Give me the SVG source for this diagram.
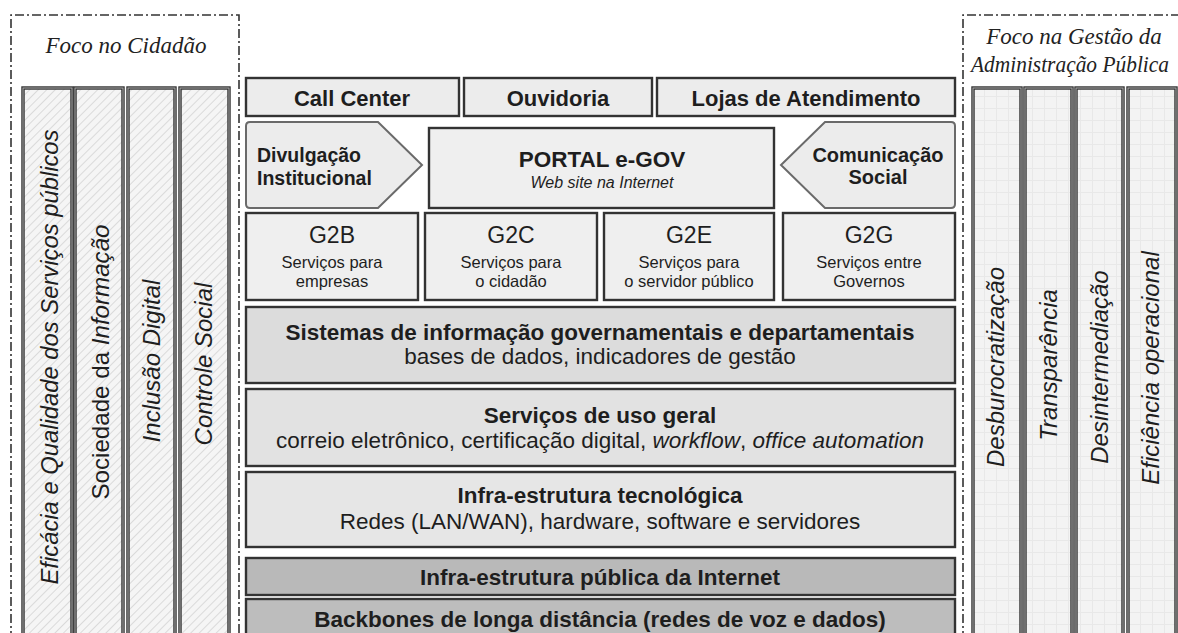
<svg xmlns="http://www.w3.org/2000/svg" width="1178" height="633" viewBox="0 0 1178 633">
<style>
.bg{fill:#ffffff}
.dash{fill:none;stroke:#333;stroke-width:1.6;stroke-dasharray:9,3,2,3}
.col{stroke:#2e2e2e;stroke-width:3.4}
.colin{fill:none;stroke:#b0b0b0;stroke-width:1}
.box{stroke:#333;stroke-width:2.4}
.arr{fill:#ececec;stroke:#6a6a6a;stroke-width:2}
.l1{fill:#ececec}.l2{fill:#efefef}.m1{fill:#dcdcdc}.m2{fill:#e2e2e2}.m3{fill:#e6e6e6}.d1{fill:#b9b9b9}.d2{fill:#bdbdbd}
.sans{font-family:"Liberation Sans",Arial,sans-serif;fill:#1e1e1e}
.serif{font-family:"Liberation Serif","Times New Roman",serif;font-style:italic;font-size:23px;fill:#222;text-anchor:middle}
.b{font-weight:bold}
.c{text-anchor:middle}
.it{font-style:italic}
.rot{font-family:"Liberation Sans",Arial,sans-serif;font-size:24px;fill:#1e1e1e;text-anchor:middle}
</style>
<defs>
<pattern id="hatch" patternUnits="userSpaceOnUse" width="6" height="6" patternTransform="rotate(45)">
<rect width="6" height="6" fill="#f5f5f5"/>
<line x1="0" y1="0" x2="0" y2="6" stroke="#d4d4d4" stroke-width="1.6"/>
</pattern>
<pattern id="grid" patternUnits="userSpaceOnUse" width="12" height="12">
<rect width="12" height="12" fill="#f3f3f3"/>
<path d="M0 0.5H12M0.5 0V12" stroke="#e8e8e8" stroke-width="1"/>
</pattern>
</defs>
<rect class="bg" x="0" y="0" width="1178" height="633"/>

<g id="left-panel">
<path class="dash" d="M11 640V15H239V640"/>
<text class="serif" x="126" y="53">Foco no Cidadão</text>
</g>
<g id="right-panel">
<path class="dash" d="M963 640V15H1185"/>
<text class="serif" x="1074" y="44">Foco na Gestão da</text>
<text class="serif" x="1070" y="72" textLength="198" lengthAdjust="spacingAndGlyphs">Administração Pública</text>
</g>

<g id="col-eficacia">
<rect class="col" x="23" y="88" width="49" height="548" fill="url(#hatch)"/>
<rect class="colin" x="23" y="88" width="49" height="548"/>
<text class="rot it" transform="translate(58,357) rotate(-90)" textLength="455" lengthAdjust="spacingAndGlyphs">Eficácia e Qualidade dos Serviços públicos</text>
</g>
<g id="col-sociedade">
<rect class="col" x="75" y="88" width="48" height="548" fill="url(#hatch)"/>
<rect class="colin" x="75" y="88" width="48" height="548"/>
<text class="rot" transform="translate(109,362) rotate(-90)" textLength="275" lengthAdjust="spacingAndGlyphs">Sociedade da <tspan class="it">Informação</tspan></text>
</g>
<g id="col-inclusao">
<rect class="col" x="128" y="88" width="47" height="548" fill="url(#hatch)"/>
<rect class="colin" x="128" y="88" width="47" height="548"/>
<text class="rot it" transform="translate(160,361) rotate(-90)">Inclusão Digital</text>
</g>
<g id="col-controle">
<rect class="col" x="180" y="88" width="49" height="548" fill="url(#hatch)"/>
<rect class="colin" x="180" y="88" width="49" height="548"/>
<text class="rot it" transform="translate(212,364) rotate(-90)">Controle Social</text>
</g>

<g id="col-desburocratizacao">
<rect class="col" x="973" y="88" width="48" height="548" fill="url(#grid)"/>
<rect class="colin" x="973" y="88" width="48" height="548"/>
<text class="rot it" transform="translate(1004,367) rotate(-90)">Desburocratização</text>
</g>
<g id="col-transparencia">
<rect class="col" x="1025" y="88" width="47" height="548" fill="url(#grid)"/>
<rect class="colin" x="1025" y="88" width="47" height="548"/>
<text class="rot it" transform="translate(1057,365) rotate(-90)">Transparência</text>
</g>
<g id="col-desintermediacao">
<rect class="col" x="1076" y="88" width="47" height="548" fill="url(#grid)"/>
<rect class="colin" x="1076" y="88" width="47" height="548"/>
<text class="rot it" transform="translate(1108,367) rotate(-90)">Desintermediação</text>
</g>
<g id="col-eficiencia">
<rect class="col" x="1128" y="88" width="48" height="548" fill="url(#grid)"/>
<rect class="colin" x="1128" y="88" width="48" height="548"/>
<text class="rot it" transform="translate(1159,368) rotate(-90)">Eficiência operacional</text>
</g>

<g id="call-center">
<rect class="box l1" x="246" y="78" width="213" height="38"/>
<text class="sans b c" x="352" y="106" font-size="22">Call Center</text>
</g>
<g id="ouvidoria">
<rect class="box l1" x="464" y="78" width="188" height="38"/>
<text class="sans b c" x="558" y="106" font-size="22">Ouvidoria</text>
</g>
<g id="lojas">
<rect class="box l1" x="657" y="78" width="298" height="38"/>
<text class="sans b c" x="806" y="106" font-size="22">Lojas de Atendimento</text>
</g>

<g id="divulgacao">
<path class="arr" d="M250 122H378L422 165L378 208H250Q246 208 246 204V126Q246 122 250 122Z"/>
<text class="sans b" x="257" y="162" font-size="19.5">Divulgação</text>
<text class="sans b" x="257" y="185" font-size="19.5">Institucional</text>
</g>
<g id="portal">
<rect class="box l2" x="429" y="128" width="345" height="80"/>
<text class="sans b c" x="602" y="167" font-size="22.5">PORTAL e-GOV</text>
<text class="sans c it" x="602" y="188" font-size="16">Web site na Internet</text>
</g>
<g id="comunicacao">
<path class="arr" d="M825 122H951Q955 122 955 126V204Q955 208 951 208H825L781 165Z"/>
<text class="sans b c" x="878" y="162" font-size="20">Comunicação</text>
<text class="sans b c" x="878" y="184" font-size="20">Social</text>
</g>

<g id="g2b">
<rect class="box l2" x="246" y="213" width="172" height="87"/>
<text class="sans c" x="332" y="243" font-size="23">G2B</text>
<text class="sans c" x="332" y="268" font-size="16.5">Serviços para</text>
<text class="sans c" x="332" y="287" font-size="16.5">empresas</text>
</g>
<g id="g2c">
<rect class="box l2" x="425" y="213" width="172" height="87"/>
<text class="sans c" x="511" y="243" font-size="23">G2C</text>
<text class="sans c" x="511" y="268" font-size="16.5">Serviços para</text>
<text class="sans c" x="511" y="287" font-size="16.5">o cidadão</text>
</g>
<g id="g2e">
<rect class="box l2" x="604" y="213" width="170" height="87"/>
<text class="sans c" x="689" y="243" font-size="23">G2E</text>
<text class="sans c" x="689" y="268" font-size="16.5">Serviços para</text>
<text class="sans c" x="689" y="287" font-size="16.5">o servidor público</text>
</g>
<g id="g2g">
<rect class="box l2" x="783" y="213" width="172" height="87"/>
<text class="sans c" x="869" y="243" font-size="23">G2G</text>
<text class="sans c" x="869" y="268" font-size="16.5">Serviços entre</text>
<text class="sans c" x="869" y="287" font-size="16.5">Governos</text>
</g>

<g id="sistemas">
<rect class="box m1" x="246" y="307" width="709" height="76"/>
<text class="sans b c" x="600" y="340" font-size="22.5">Sistemas de informação governamentais e departamentais</text>
<text class="sans c" x="600" y="364" font-size="22.5">bases de dados, indicadores de gestão</text>
</g>
<g id="servicos-gerais">
<rect class="box m2" x="246" y="389" width="709" height="77"/>
<text class="sans b c" x="600" y="423" font-size="22.5">Serviços de uso geral</text>
<text class="sans c" x="600" y="448" font-size="22.5">correio eletrônico, certificação digital, <tspan class="it">workflow</tspan>, <tspan class="it">office automation</tspan></text>
</g>
<g id="infra-tecnologica">
<rect class="box m3" x="246" y="472" width="709" height="75"/>
<text class="sans b c" x="600" y="503" font-size="22.5">Infra-estrutura tecnológica</text>
<text class="sans c" x="600" y="529" font-size="22.5">Redes (LAN/WAN), hardware, software e servidores</text>
</g>
<g id="infra-publica">
<rect class="box d1" x="246" y="558" width="709" height="37"/>
<text class="sans b c" x="600" y="585" font-size="22.5">Infra-estrutura pública da Internet</text>
</g>
<g id="backbones">
<rect class="box d2" x="246" y="599" width="709" height="40"/>
<text class="sans b c" x="600" y="627" font-size="22.5">Backbones de longa distância (redes de voz e dados)</text>
</g>

<g id="connectors"></g>
</svg>
